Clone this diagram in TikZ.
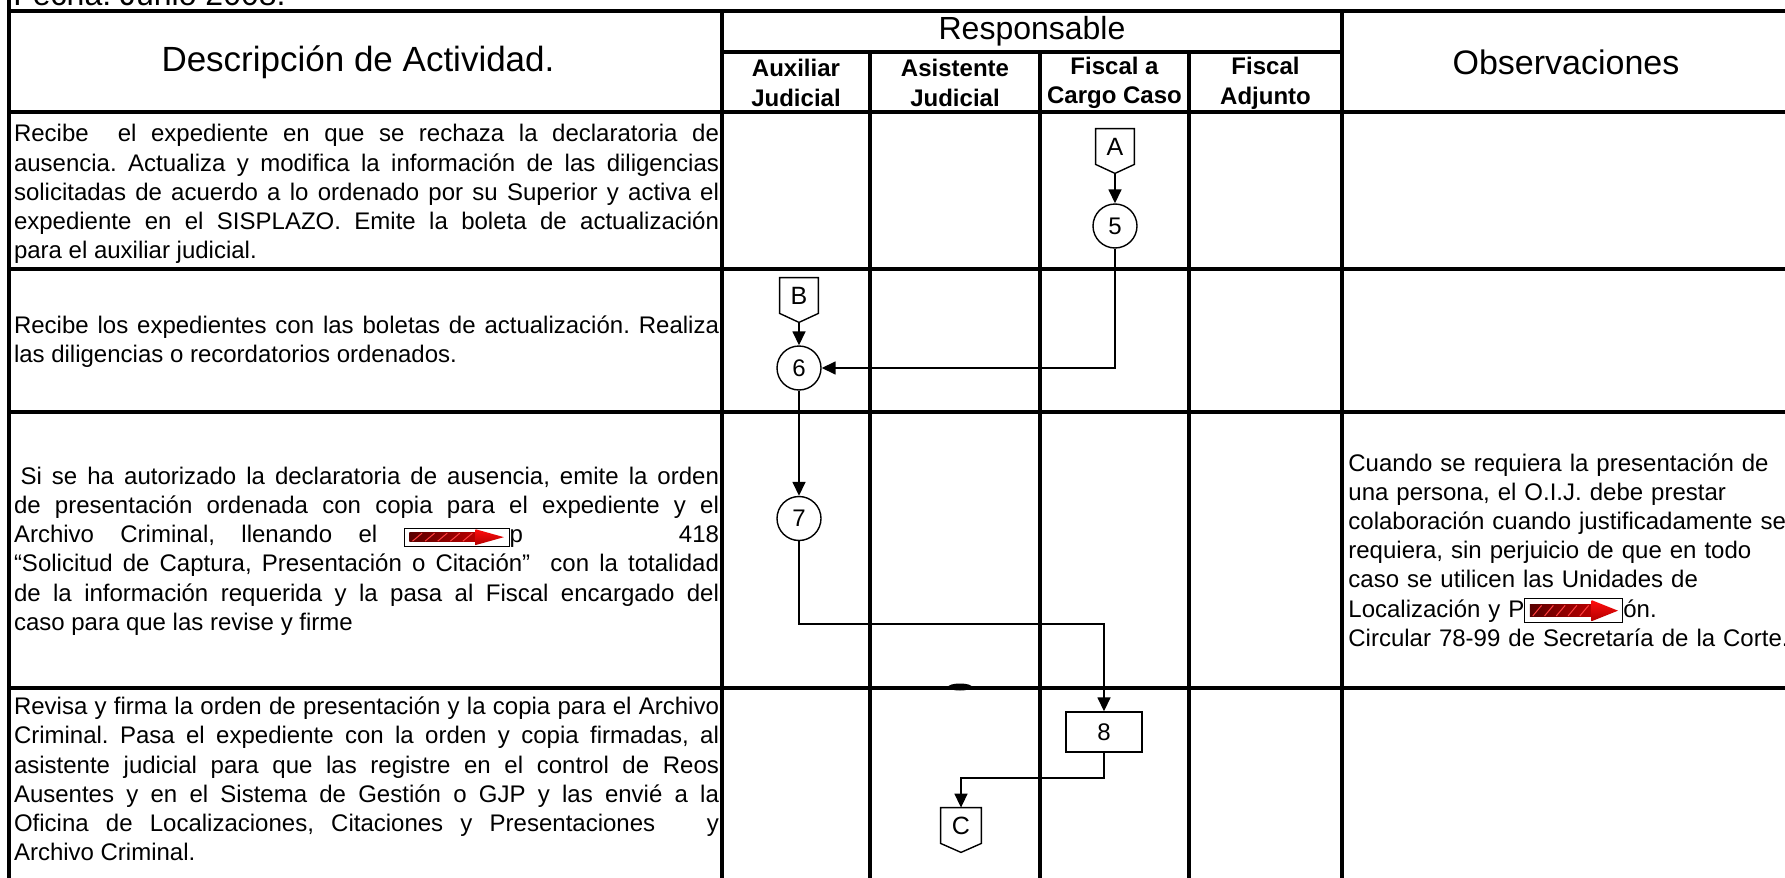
\documentclass[tikz,border=0pt]{standalone}
\usepackage{fontspec}
\setmainfont{Liberation Sans}
\usetikzlibrary{arrows.meta,calc}
\tolerance=9999
\hyphenpenalty=10000
\exhyphenpenalty=10000
\hbadness=10000
\frenchspacing
\newcommand{\redactbox}[3]{\raisebox{#3}{\tikz[x=#1pt,y=#2pt,line cap=butt,line join=miter]{%
  \draw[line width=0.45pt,fill=white] (0,0) rectangle (100,100);
  \shade[left color=red!35!black,right color=red!75!black] (5,25) rectangle (72,75);
  \foreach \s in {8,20,32,44,56}{\draw[red!75!white,line width=0.5pt] (\s,28) -- (\s+9,72);}
  \shade[top color=red!95!white,bottom color=red!70!black] (68,6) -- (95,50) -- (68,94) -- cycle;
}}}
\begin{document}
\begin{tikzpicture}[x=0.5pt,y=-0.5pt,
  tab/.style={line width=1.6pt},
  flow/.style={line width=0.8pt,-{Triangle[length=7pt,width=6.5pt]}},
  shapeline/.style={line width=0.7pt,line join=miter},
  circ/.style={circle,draw,line width=0.7pt,minimum size=22pt,inner sep=0pt,font=\fontsize{12}{14}\selectfont},
  procbox/.style={rectangle,draw,line width=0.7pt,minimum width=38pt,minimum height=20pt,inner sep=0pt,font=\fontsize{12}{14}\selectfont},
  opc/.style={rectangle,minimum width=19pt,minimum height=17.5pt,inner sep=0pt,font=\fontsize{12.5}{14}\selectfont},
  hdr/.style={inner sep=0pt},
  sub/.style={inner sep=0pt,align=center,font=\bfseries\fontsize{12}{14.8}\selectfont},
  desc/.style={inner sep=0pt,text width=352.5pt,align=justify,font=\fontsize{12}{14.6}\selectfont},
  obs/.style={inner sep=0pt,text width=240pt,align=left,font=\fontsize{12}{14.6}\selectfont}]
\fill[white] (0,0) rectangle (1785,878);
\useasboundingbox (0,0) rectangle (1785,878);

% title line (cut at top)
\node[anchor=base west,inner sep=0pt,font=\fontsize{16}{18}\selectfont] (fecha) at (13,5) {Fecha: Junio 2008.};

% table grid
\draw[tab] (9,0) -- (9,878);
\draw[tab] (9,11) -- (1785,11);
\draw[tab] (722,52) -- (1342,52);
\draw[tab] (9,112) -- (1785,112);
\draw[tab] (9,269) -- (1785,269);
\draw[tab] (9,412) -- (1785,412);
\draw[tab] (9,688) -- (1785,688);
\draw[tab] (722,11) -- (722,878);
\draw[tab] (1342,11) -- (1342,878);
\draw[tab] (870,52) -- (870,878);
\draw[tab] (1040,52) -- (1040,878);
\draw[tab] (1189,52) -- (1189,878);
\fill (960,687) ellipse [x radius=12, y radius=3.5];

% headers
\node[hdr,font=\fontsize{17.5}{20}\selectfont] (hdesc) at (358,62) {Descripción de Actividad.};
\node[hdr,font=\fontsize{16}{19}\selectfont] (hresp) at (1032,31) {Responsable};
\node[hdr,font=\fontsize{17}{20}\selectfont] (hobs) at (1566,62) {Observaciones};
\node[sub] (haux) at (796,83) {Auxiliar\\Judicial};
\node[sub] (hasi) at (955,83) {Asistente\\Judicial};
\node[sub] (hfis) at (1114.5,83) {Fiscal a\\Cargo Caso};
\node[sub] (hadj) at (1265.5,83) {Fiscal\\Adjunto};

% descriptions
\node[desc] (d1) at (366.5,194) {Recibe\ \ el expediente en que se rechaza la declaratoria de\linebreak
ausencia. Actualiza y modifica la información de las diligencias\linebreak
solicitadas de acuerdo a lo ordenado por su Superior y activa el\linebreak
expediente en el SISPLAZO. Emite la boleta de actualización\linebreak
para el auxiliar judicial.};
\node[desc] (d2) at (366.5,342) {Recibe los expedientes con las boletas de actualización. Realiza\linebreak
las diligencias o recordatorios ordenados.};
\node[desc] (d3) at (366.5,551) {\hspace*{3.3pt}Si se ha autorizado la declaratoria de ausencia, emite la orden\linebreak
de presentación ordenada con copia para el expediente y el\linebreak
Archivo Criminal, llenando el \redactbox{0.525}{0.09}{-2pt}p\hspace{78pt}418\linebreak
“Solicitud de Captura, Presentación o Citación"\ \ con la totalidad\linebreak
de la información requerida y la pasa al Fiscal encargado del\linebreak
caso para que las revise y firme};
\node[desc] (d4) at (366.5,779) {Revisa y firma la orden de presentación y la copia para el Archivo\linebreak
Criminal. Pasa el expediente con la orden y copia firmadas, al\linebreak
asistente judicial para que las registre en el control de Reos\linebreak
Ausentes y en el Sistema de Gestión o GJP y las envié a la\linebreak
Oficina de Localizaciones, Citaciones y Presentaciones\ \ \ y\linebreak
Archivo Criminal.};

% observation
\node[obs,anchor=west] (o3) at (1348,550) {Cuando se requiera la presentación de\\
una persona, el O.I.J. debe prestar\\
colaboración cuando justificadamente se\\
requiera, sin perjuicio de que en todo\\
caso se utilicen las Unidades de\\
Localización y P\redactbox{0.49}{0.12}{-3pt}ón.\\
Circular 78-99 de Secretaría de la Corte.};

% flow shapes
\node[opc] (A) at (1115,146.5) {A};
\coordinate (Atip) at ($(A.south)+(0,9)$);
\draw[shapeline] (A.north west) -- (A.north east) -- (A.south east) -- (Atip) -- (A.south west) -- cycle;
\node[opc] (B) at (799,295.5) {B};
\coordinate (Btip) at ($(B.south)+(0,9)$);
\draw[shapeline] (B.north west) -- (B.north east) -- (B.south east) -- (Btip) -- (B.south west) -- cycle;
\node[opc,minimum width=20pt] (C) at (961,825.5) {C};
\coordinate (Ctip) at ($(C.south)+(0,9)$);
\draw[shapeline] (C.north west) -- (C.north east) -- (C.south east) -- (Ctip) -- (C.south west) -- cycle;

\node[circ] (n5) at (1115,226) {5};
\node[circ] (n6) at (799,368) {6};
\node[circ] (n7) at (799,518.5) {7};
\node[procbox] (n8) at (1104,732) {8};
\coordinate (k1) at (1104,624);
\coordinate (k2) at (961,778);

% connectors
\draw[flow] (Atip) -- (n5);
\draw[flow] (n5) |- (n6);
\draw[flow] (Btip) -- (n6);
\draw[flow] (n6) -- (n7);
\draw[flow] (n7) |- (k1) -- (n8);
\draw[flow] (n8) |- (k2) -- (C);
\end{tikzpicture}
\end{document}
